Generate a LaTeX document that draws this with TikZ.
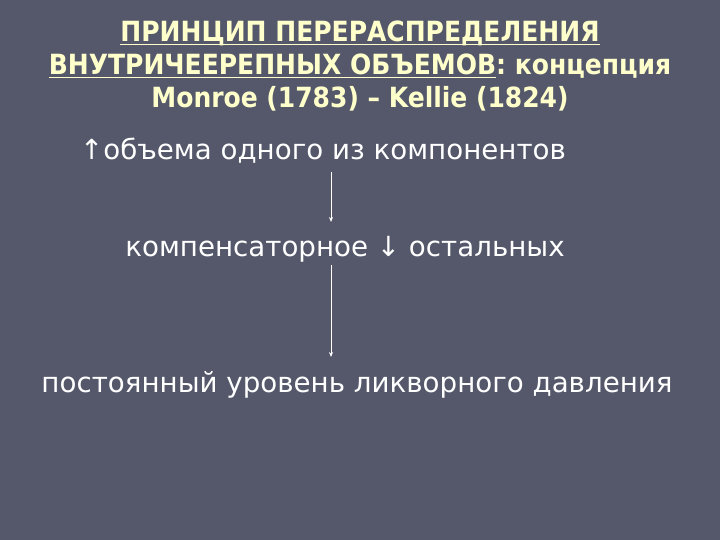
\documentclass[tikz,border=0pt]{standalone}
\usepackage{fontspec}
\setmainfont{DejaVu Sans}
\newfontfamily\titlefont{DejaVu Sans Condensed}[BoldFont=DejaVu Sans Condensed Bold]
\usetikzlibrary{arrows.meta}
\definecolor{bg}{RGB}{84,88,106}
\definecolor{ttl}{RGB}{255,255,204}
\newlength\myulw
\newcommand\myul[1]{\settowidth{\myulw}{#1}\rlap{\rule[-3.5pt]{\myulw}{1.6pt}}#1}
\tikzset{
  titletext/.style={text=ttl, font=\titlefont\bfseries\fontsize{27.8}{32}\selectfont, anchor=base, inner sep=0pt},
  bodytext/.style={text=white, font=\fontsize{27.7}{32}\selectfont, anchor=base, inner sep=0pt},
  flow/.style={draw=white, line width=0.8pt, -{Stealth[length=5pt,width=4pt]}}
}
\begin{document}
\begin{tikzpicture}[x=1pt,y=-1pt]
\fill[bg] (0,0) rectangle (720,540);
\useasboundingbox (0,0) rectangle (720,540);
\node[titletext] (t1) at (360,42) {\myul{ПРИНЦИП ПЕРЕРАСПРЕДЕЛЕНИЯ}};
\node[titletext] (t2) at (360,75) {\myul{ВНУТРИЧЕЕРЕПНЫХ ОБЪЕМОВ}: концепция};
\node[titletext] (t3) at (360,108) {Monroe (1783) – Kellie (1824)};
\node[bodytext] (a) at (323,160) {↑объема одного из компонентов};
\node[bodytext] (b) at (345,256) {компенсаторное ↓ остальных};
\node[bodytext] (c) at (357,392) {постоянный уровень ликворного давления};
\coordinate (a1) at (331,172);
\coordinate (b1) at (331,222);
\coordinate (b2) at (331,265);
\coordinate (c1) at (331,357);
\draw[flow] (a1) -- (b1);
\draw[flow] (b2) -- (c1);
\end{tikzpicture}
\end{document}
